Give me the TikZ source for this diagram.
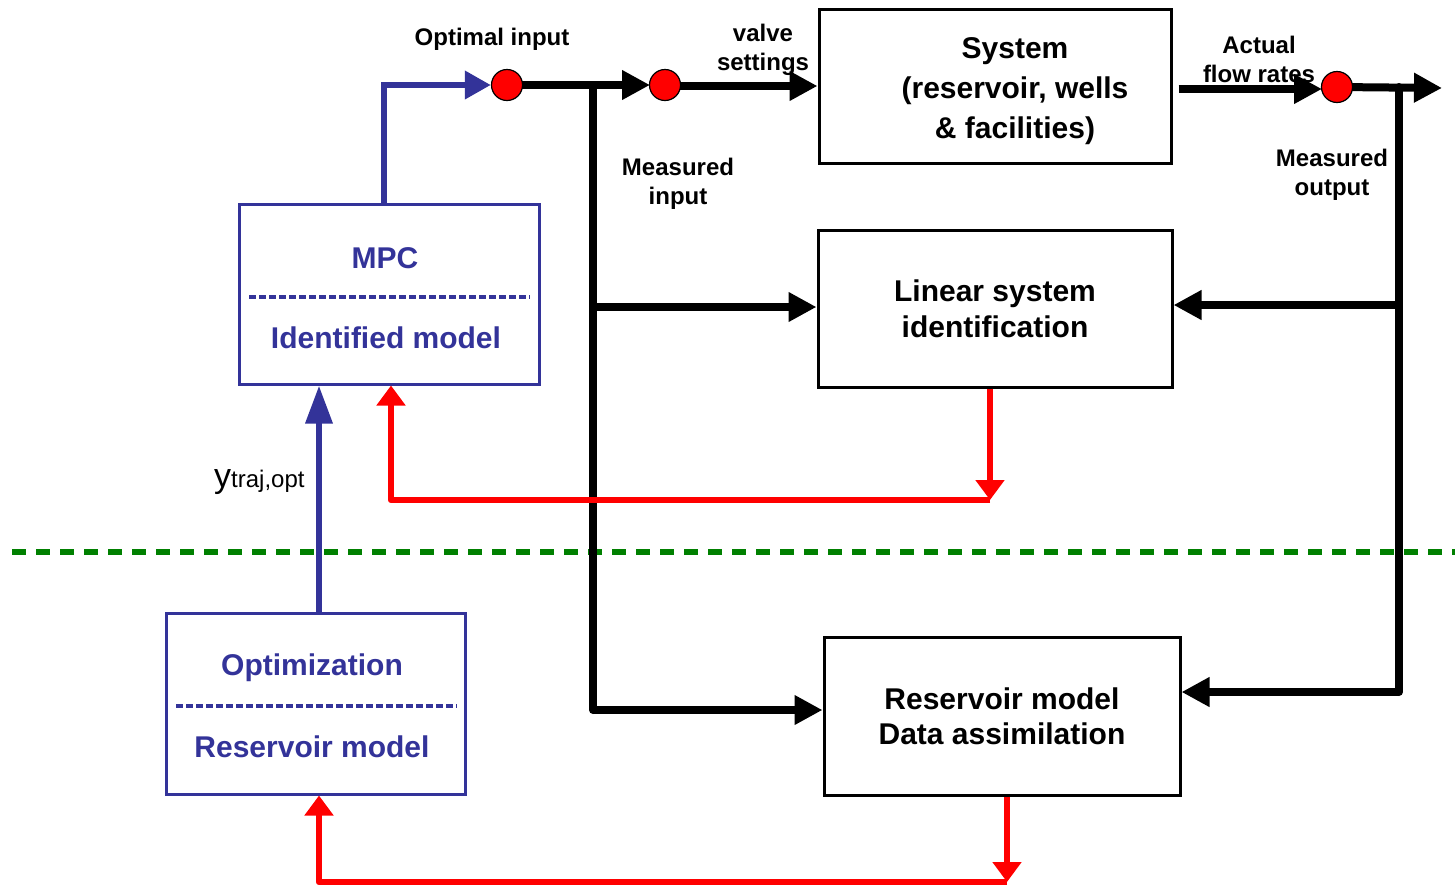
\documentclass[tikz,border=0pt]{standalone}
\usepackage{fontspec}
\setmainfont{Liberation Sans}
\usetikzlibrary{arrows.meta}
\definecolor{mpcblue}{RGB}{51,51,153}
\definecolor{sepgreen}{RGB}{0,128,0}

\begin{document}
\begin{tikzpicture}[x=1pt,y=-1pt,
		every node/.style={font=\fontsize{24}{29}\selectfont\bfseries,align=center},
		block/.style={draw,line width=3pt},
		ctrl/.style={block,draw=mpcblue},
		boxtext/.style={font=\fontsize{30}{36}\selectfont\bfseries},
		ctrltext/.style={boxtext,text=mpcblue},
		dot/.style={draw,circle,fill=red,line width=1.2pt,minimum size=31pt,inner sep=0pt},
		sig/.style={line width=8pt,-{Triangle[length=28pt,width=28pt]}},
		tap/.style={line width=8pt,line cap=round},
		ublue/.style={draw=mpcblue,line width=6.5pt,-{Triangle[length=26pt,width=27pt]}},
		upd/.style={draw=red,line width=6.5pt,line join=round,-{Triangle[length=20pt,width=28pt]}},
		sepline/.style={mpcblue,line width=3.5pt,dash pattern=on 7pt off 3pt}]
	\useasboundingbox (0,0) rectangle (1455,887);

	% blocks
	\path (995,86) node[block,minimum width=352pt,minimum height=154pt] (sys) {}
		(1015,91) node[boxtext,font=\fontsize{30}{40}\selectfont\bfseries] (systxt) {System\\(reservoir, wells\\\& facilities)}
		(995,308.5) node[block,minimum width=354pt,minimum height=157pt,boxtext] (lsi) {Linear system\\identification}
		(1002,716) node[block,minimum width=356pt,minimum height=158pt,boxtext,font=\fontsize{30}{35}\selectfont\bfseries] (rmda) {Reservoir model\\Data assimilation}
		(389,294) node[ctrl,minimum width=300pt,minimum height=180pt] (mpc) {}
		(385,258) node[ctrltext] (mpctop) {MPC}
		(386,338) node[ctrltext] (mpcbot) {Identified model}
		(315.5,703.5) node[ctrl,minimum width=299pt,minimum height=181pt] (opt) {}
		(312,668) node[ctrltext] (opttop) {Optimization}
		(312,747) node[ctrltext] (optbot) {Reservoir model};

	\draw[sepline] (249,297) -- (530,297);
	\draw[sepline] (176,706) -- (457,706);

	% separator
	\draw[sepgreen,line width=6pt,dash pattern=on 14pt off 10pt] (12,552) -- (1455,552);

	% junctions
	\coordinate (tapin) at (593,85);
	\coordinate (tapbot) at (593,710);
	\coordinate (tapout) at (1399,87);
	\coordinate (tapoutbot) at (1399,692);
	\coordinate (outend) at (1442,88);
	\coordinate (lsidown) at (990,500);
	\coordinate (rmdown) at (1007,882);

	% signal lines
	\draw[tap] (tapin) -- (tapbot);
	\draw[tap] (tapout) -- (tapoutbot);
	\draw[sig] (507,85) -- (650,85);
	\draw[sig] (665,86) -- (sys.west |- 0,86);
	\draw[sig] ([xshift=6pt]sys.east |- 0,89) -- (1322,89);
	\draw[sig] (1337,87) -- (outend);
	\draw[sig] (tapin |- 0,307) -- (lsi.west |- 0,307);
	\draw[sig] (tapbot) -- (rmda.west |- tapbot);
	\draw[sig] (tapout |- 0,305) -- (lsi.east |- 0,305);
	\draw[sig] (tapoutbot) -- (rmda.east |- tapoutbot);

	% red dots
	\path (507,85) node[dot] (c1) {}
		(665,85) node[dot] (c2) {}
		(1337,87) node[dot] (c3) {};

	% blue control path
	\draw[ublue] ([xshift=-5pt]mpc.north) |- (c1.west);
	\draw[ublue,-{Triangle[length=38pt,width=26pt]}] ([xshift=3.5pt]opt.north) -- ([xshift=3.5pt]opt.north |- mpc.south);

	% model updates
	\draw[upd] ([xshift=-5pt]lsi.south) -- (lsidown);
	\draw[upd] (lsidown) -| ([xshift=2pt]mpc.south);
	\draw[upd] ([xshift=5pt]rmda.south) -- (rmdown);
	\draw[upd] (rmdown) -| ([xshift=3.5pt]opt.south);

	% labels
	\path (492,39) node (lopt) {Optimal input}
		(763,50) node (lvalve) {valve\\settings}
		(678,184) node (lmin) {Measured\\input}
		(1259,59) node (lflow) {Actual\\flow rates}
		(1332,175) node (lmout) {Measured\\output}
		(214,487) node[anchor=base west,font=\fontsize{34}{36}\selectfont,inner sep=0pt] (ytraj) {y{\fontsize{24}{26}\selectfont traj,opt}};

\end{tikzpicture}
\end{document}
